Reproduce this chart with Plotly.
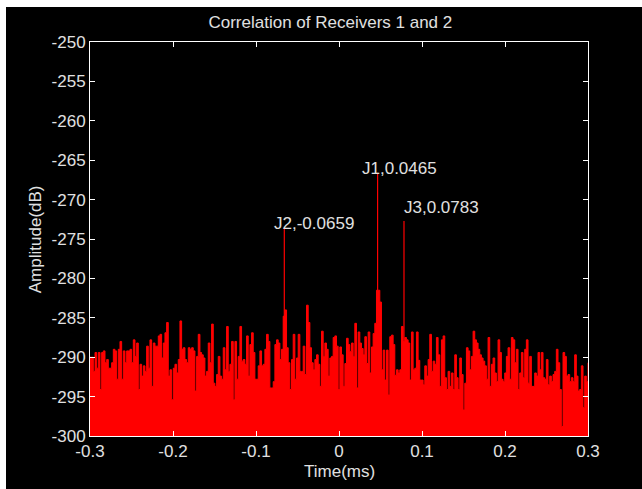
import numpy as np
import plotly.graph_objects as go

# Correlation amplitude (dB), left to right, -0.3 .. 0.3 ms
amp_db = [
    -290.0, -290.0, -291.8, -289.4, -291.4, -289.4, -294.1, -289.4, -289.2, -290.7,
    -290.3, -291.4, -291.4, -290.7, -289.0, -289.2, -292.8, -289.0, -288.0, -292.8,
    -289.2, -290.7, -289.2, -289.2, -289.0, -290.7, -287.8, -289.9, -288.2, -294.1,
    -290.9, -292.4, -291.1, -291.8, -288.6, -291.4, -287.8, -293.7, -288.2, -288.6,
    -288.6, -287.3, -287.1, -290.1, -288.2, -286.9, -285.6, -292.4, -291.6, -295.4,
    -291.4, -290.9, -292.0, -290.3, -285.4, -289.0, -288.8, -290.3, -290.7, -288.8,
    -289.0, -288.8, -289.2, -294.3, -289.9, -287.1, -289.4, -289.7, -290.1, -292.4,
    -291.8, -288.2, -290.7, -285.8, -293.3, -293.7, -292.2, -289.9, -292.4, -292.8,
    -288.8, -291.6, -286.1, -291.8, -290.9, -288.0, -295.4, -288.0, -292.8, -289.9,
    -286.1, -290.5, -290.3, -290.9, -287.3, -292.4, -288.4, -286.9, -289.4, -292.8,
    -292.8, -291.1, -289.2, -291.1, -290.9, -289.0, -287.1, -288.0, -293.9, -293.9,
    -293.1, -288.4, -287.8, -288.2, -290.3, -289.0, -284.8, -284.0, -288.8, -290.7,
    -294.1, -290.3, -287.1, -292.8, -290.1, -287.1, -291.8, -291.8, -288.6, -292.2,
    -283.4, -285.6, -288.8, -290.7, -291.6, -290.3, -289.7, -290.9, -293.7, -286.7,
    -289.9, -288.2, -289.0, -292.4, -290.1, -289.9, -287.5, -287.3, -288.6, -294.1,
    -288.7, -289.7, -293.7, -290.8, -287.6, -288.4, -289.3, -288.2, -289.9, -285.7,
    -293.9, -286.8, -288.2, -288.9, -289.7, -287.4, -290.8, -286.8, -292.0, -288.7,
    -287.0, -285.7, -281.5, -281.5, -283.0, -291.6, -289.1, -292.9, -289.1, -294.8,
    -287.4, -287.2, -288.4, -292.3, -291.6, -292.0, -291.6, -286.1, -288.0, -287.5,
    -287.8, -288.2, -292.9, -286.8, -291.6, -291.4, -286.8, -290.4, -292.9, -292.9,
    -293.5, -291.1, -292.4, -290.3, -287.1, -291.8, -290.5, -290.9, -287.5, -289.7,
    -293.7, -287.8, -287.3, -292.6, -294.1, -291.8, -293.7, -292.0, -294.1, -289.7,
    -292.6, -294.1, -290.1, -292.2, -296.7, -293.3, -288.8, -289.2, -291.6, -289.9,
    -286.7, -287.8, -288.2, -289.0, -289.7, -290.1, -290.5, -291.1, -292.8, -287.5,
    -293.7, -290.9, -290.1, -292.0, -293.1, -287.8, -289.4, -292.8, -293.1, -292.0,
    -289.9, -288.8, -292.8, -287.5, -287.8, -290.7, -289.0, -294.1, -292.0, -289.4,
    -292.6, -289.0, -287.8, -293.3, -289.9, -293.7, -293.7, -292.0, -292.4, -289.4,
    -291.6, -289.4, -292.6, -292.8, -290.3, -293.5, -292.4, -293.1, -292.2, -291.8,
    -289.0, -290.7, -294.1, -298.8, -289.4, -289.9, -292.4, -292.2, -293.1, -292.6,
    -293.1, -289.7, -292.4, -294.3, -294.1, -291.1, -296.4, -292.4, -293.1, -290.7,
]
time_ms = np.linspace(-0.3, 0.3, len(amp_db))

# Labelled correlation peaks
peak_names = ["J1", "J2", "J3"]
peak_time = [0.0465, -0.0659, 0.0783]
peak_db = [-266.6, -273.6, -272.7]

x_ticks = [-0.3, -0.2, -0.1, 0, 0.1, 0.2, 0.3]
x_tick_text = ["-0.3", "-0.2", "-0.1", "0", "0.1", "0.2", "0.3"]
y_ticks = [-300, -295, -290, -285, -280, -275, -270, -265, -260, -255, -250]
y_tick_text = ["-300", "-295", "-290", "-285", "-280", "-275", "-270", "-265", "-260", "-255", "-250"]

FONT = "Liberation Sans"
FS = 17
TXT = "#e0e0e0"
RED = "#ff0000"

fig = go.Figure()
fig.add_trace(go.Scatter(x=[-0.3, 0.3], y=[-300, -300], mode="lines",
                         line=dict(color=RED, width=0), showlegend=False, hoverinfo="skip"))
fig.add_trace(go.Scatter(x=time_ms, y=amp_db, mode="lines", line=dict(color=RED, width=1, shape="hv"),
                         fill="tonexty", fillcolor=RED, showlegend=False))

sx, sy = [], []
for t, v in zip(peak_time, peak_db):
    sx += [t, t, None]
    sy += [-300, v, None]
fig.add_trace(go.Scatter(x=sx, y=sy, mode="lines", line=dict(color=RED, width=1.2), showlegend=False))

label_pos = {"J1": (0.0253, -266.05), "J2": (-0.0807, -273.0), "J3": (0.0759, -271.0)}
for n, t in zip(peak_names, peak_time):
    lx, ly = label_pos[n]
    fig.add_annotation(x=lx, y=ly, xref="x", yref="y", text=f"{n},{t:g}", showarrow=False,
                       xanchor="left", yanchor="middle", font=dict(family=FONT, size=FS, color=TXT))

axis_common = dict(showline=True, linecolor="white", linewidth=1, mirror="ticks", ticks="inside",
                   ticklen=5, tickcolor="white", showgrid=False, zeroline=False,
                   tickfont=dict(family=FONT, size=FS, color=TXT))
fig.update_xaxes(range=[-0.3, 0.3], tickvals=x_ticks, ticktext=x_tick_text, **axis_common)
fig.update_yaxes(range=[-300, -250], tickvals=y_ticks, ticktext=y_tick_text, **axis_common)

fig.add_annotation(x=0.5, y=-0.089, xref="paper", yref="paper", text="Time(ms)", showarrow=False,
                   xanchor="center", yanchor="middle", font=dict(family=FONT, size=FS, color=TXT))
fig.add_annotation(x=-0.110, y=0.5, xref="paper", yref="paper", text="Amplitude(dB)", showarrow=False,
                   textangle=-90, xanchor="center", yanchor="middle", font=dict(family=FONT, size=FS, color=TXT))

fig.update_layout(
    width=636, height=482,
    margin=dict(l=84, r=54, t=35, b=53),
    paper_bgcolor="black", plot_bgcolor="black",
    title=dict(text="Correlation of Receivers 1 and 2", x=0.510, xanchor="center", y=0.969,
               yanchor="middle", font=dict(family=FONT, size=FS, color=TXT)),
)

fig.write_html("out.html", post_script="document.body.style.margin='7px 0 0 6px';")
